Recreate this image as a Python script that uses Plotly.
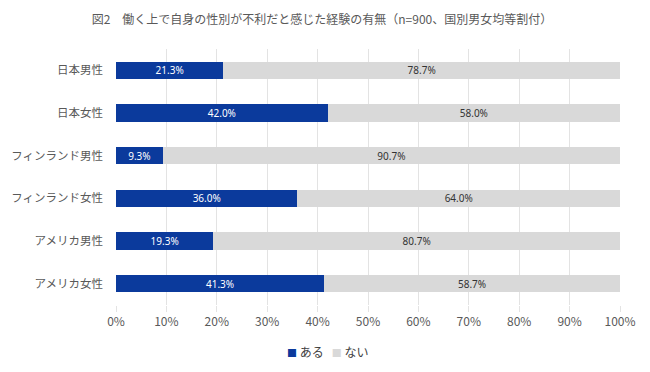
import plotly.graph_objects as go

categories = ["日本男性", "日本女性", "フィンランド男性", "フィンランド女性", "アメリカ男性", "アメリカ女性"]
aru = [21.3, 42.0, 9.3, 36.0, 19.3, 41.3]
nai = [78.7, 58.0, 90.7, 64.0, 80.7, 58.7]
tick_vals = [0, 10, 20, 30, 40, 50, 60, 70, 80, 90, 100]
tick_text = [f"{v}%" for v in tick_vals]

FONT = "Noto Sans CJK JP"
BLUE = "#0B3A9C"
GRAY = "#D9D9D9"

fig = go.Figure()
fig.add_trace(go.Bar(
    y=categories, x=aru, orientation="h", name="ある",
    marker=dict(color=BLUE, line=dict(width=0)),
    text=[f"{v:.1f}%" for v in aru], textposition="inside", insidetextanchor="middle",
    constraintext="none",
    textfont=dict(color="white", size=10, family="Noto Sans"), width=0.4,
))
fig.add_trace(go.Bar(
    y=categories, x=nai, orientation="h", name="ない",
    marker=dict(color=GRAY, line=dict(width=0)),
    text=[f"{v:.1f}%" for v in nai], textposition="inside", insidetextanchor="middle",
    constraintext="none",
    textfont=dict(color="#333333", size=10, family="Noto Sans"), width=0.4,
))

fig.add_annotation(
    text=(f"<span style='color:{BLUE};font-size:10px'>■</span> ある&nbsp;&nbsp;&nbsp;"
          f"<span style='color:{GRAY};font-size:10px'>■</span> ない"),
    xref="paper", yref="paper", x=0.42, y=-0.18, xanchor="center", yanchor="middle",
    showarrow=False, font=dict(size=12, color="#404040", family=FONT),
)

fig.update_layout(
    barmode="stack",
    width=642, height=364,
    margin=dict(l=108, r=30, t=41, b=67, autoexpand=False),
    paper_bgcolor="white", plot_bgcolor="white",
    showlegend=False,
    font=dict(family=FONT, size=12, color="#595959"),
    title=dict(text="図2　働く上で自身の性別が不利だと感じた経験の有無（n=900、国別男女均等割付）",
               x=0.489, xref="container", xanchor="center", y=0.967, yref="container",
               yanchor="middle",
               font=dict(size=12, color="#595959", family=FONT)),
    xaxis=dict(range=[0, 100], tickvals=tick_vals, ticktext=tick_text,
               showgrid=True, gridcolor="#E3E3E3", gridwidth=1, zeroline=False,
               showline=False, ticks="outside", ticklen=6, tickcolor="#E3E3E3",
               automargin=False,
               tickfont=dict(size=12, color="#595959")),
    yaxis=dict(autorange="reversed", showgrid=False, ticks="", automargin=False,
               ticklabelstandoff=12,
               tickfont=dict(size=11.5, color="#595959")),
    bargap=0.6,
)
fig.write_html("out.html")
